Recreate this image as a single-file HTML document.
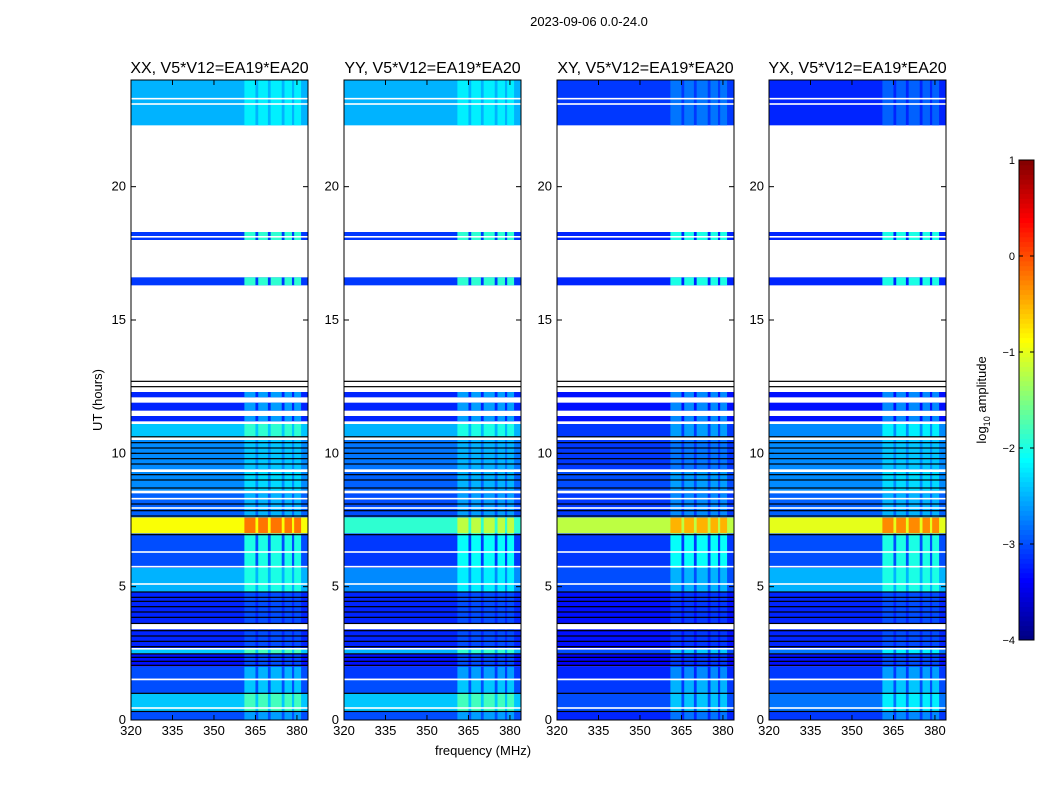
<!DOCTYPE html>
<html><head><meta charset="utf-8"><style>
body{margin:0;background:#fff;font-family:"Liberation Sans","DejaVu Sans",sans-serif}
svg text{font-family:"Liberation Sans","DejaVu Sans",sans-serif}
</style></head><body>
<svg id="fig" width="1050" height="800" xmlns="http://www.w3.org/2000/svg">
<text x="589" y="26" font-size="13" text-anchor="middle">2023-09-06 0.0-24.0</text>
<text x="483" y="755" font-size="13" text-anchor="middle">frequency (MHz)</text>
<text transform="translate(102,400) rotate(-90)" font-size="13" text-anchor="middle">UT (hours)</text>
<g id="plots"></g>
<g id="cbar"></g>
</svg>
<script>
const panelTitles=["XX, V5*V12=EA19*EA20","YY, V5*V12=EA19*EA20","XY, V5*V12=EA19*EA20","YX, V5*V12=EA19*EA20"];
const segStart=[0.0,0.3,1.0,1.55,2.0,2.5,2.7,3.6,4.8,5.7,7.0,7.6,8.6,9.4,10.6,11.2,11.6,12.1,16.3,18.0,22.3];
const segEnd  =[0.3,1.0,1.5,2.0,2.5,2.65,3.4,4.8,5.7,7.0,7.6,8.5,9.3,10.5,11.1,11.4,11.9,12.3,16.6,18.3,24.0];
const lvlXX=[-3.0,-2.4,-3.0,-3.0,-3.3,-2.4,-3.2,-3.2,-2.5,-3.0,-0.9,-2.9,-2.7,-2.7,-2.4,-3.2,-3.2,-3.2,-3.1,-3.1,-2.5];
const lvlYY=[-3.0,-2.4,-3.0,-3.1,-3.3,-2.5,-3.2,-3.2,-2.7,-3.1,-1.9,-3.0,-2.9,-2.8,-2.5,-3.2,-3.2,-3.2,-3.1,-3.1,-2.5];
const lvlXY=[-3.2,-3.0,-3.1,-3.2,-3.4,-3.0,-3.3,-3.3,-3.0,-3.1,-1.2,-3.1,-3.0,-3.1,-3.1,-3.3,-3.3,-3.3,-3.2,-3.2,-3.1];
const lvlYX=[-3.1,-2.8,-3.0,-3.1,-3.3,-2.8,-3.2,-3.2,-2.5,-3.0,-1.0,-2.9,-2.7,-2.7,-2.7,-3.3,-3.3,-3.3,-3.2,-3.2,-3.2];
const rfiBoost=[0.4,0.6,0.6,0.5,0.3,0.6,0.2,0.2,0.5,1.0,0.7,0.4,0.4,0.3,0.5,0.6,0.6,0.6,1.2,1.2,0.3];
const rfiStart=[361,366,370.5,375.5,379];
const rfiEnd  =[365,369.5,374.5,378.2,381.5];
const whiteLines=[0.45,1.52,2.67,3.45,3.55,5.1,5.75,6.3,7.95,8.3,8.55,9.35,10.55,11.15,11.45,11.95,12.35,18.12,23.1,23.3];
const blackLines=[0.32,1.0,2.05,2.2,2.35,2.48,2.75,2.95,3.15,3.35,3.62,3.85,4.05,4.25,4.45,4.6,4.8,6.95,7.65,7.85,8.1,8.7,9.0,9.2,9.6,9.8,10.0,10.2,10.4,10.62,12.5,12.7];
const cbTicks=[1,0,-1,-2,-3,-4];
const xTicks=[320,335,350,365,380];
const yTicks=[0,5,10,15,20];
const levels=[lvlXX,lvlYY,lvlXY,lvlYX];
const panelX=[131,344,557,769], PW=177, PT=80, PB=720;
const NS="http://www.w3.org/2000/svg";
function jet(v){let t=(v+4)/5;t=Math.max(0,Math.min(1,t));
 const f=x=>Math.max(0,Math.min(1,x));
 const r=f(1.5-Math.abs(4*t-3)),g=f(1.5-Math.abs(4*t-2)),b=f(1.5-Math.abs(4*t-1));
 return `rgb(${Math.round(r*255)},${Math.round(g*255)},${Math.round(b*255)})`;}
function mk(tag,attrs,parent){const e=document.createElementNS(NS,tag);for(const k in attrs)e.setAttribute(k,attrs[k]);parent.appendChild(e);return e;}
const yS=h=>PB-(h/24)*(PB-PT);
const plots=document.getElementById('plots');
levels.forEach((lv,p)=>{
 const x0=panelX[p];const xS=f=>x0+(f-320)/(384-320)*PW;
 const g=mk('g',{},plots);
 
 
 segStart.forEach((s,i)=>{
  const y1=yS(segEnd[i]),y2=yS(s);
  const r=mk('rect',{x:x0,y:y1,width:PW,height:y2-y1,fill:jet(lv[i])},g);
  
  
  rfiStart.forEach((fs,j)=>{
   const c=mk('rect',{x:xS(fs),y:y1,width:xS(rfiEnd[j])-xS(fs),height:y2-y1,fill:jet(lv[i]+rfiBoost[i])},g);
   
   
  });
 });
 blackLines.forEach(h=>{const l=mk('rect',{x:x0,y:yS(h)-0.6,width:PW,height:1.2,fill:'#000'},g);
  });
 whiteLines.forEach(h=>{const l=mk('rect',{x:x0,y:yS(h)-0.8,width:PW,height:1.6,fill:'#fff'},g);
  });
 const fr=mk('rect',{x:x0,y:PT,width:PW,height:PB-PT,fill:'none',stroke:'#000','stroke-width':1},g);
 
 const t=mk('text',{x:x0+PW/2,y:PT-7,'font-size':16,'text-anchor':'middle'},g);t.textContent=panelTitles[p];
 
 xTicks.forEach(v=>{const x=xS(v);mk('line',{x1:x,x2:x,y1:PB,y2:PB-5,stroke:'#000'},g);mk('line',{x1:x,x2:x,y1:PT,y2:PT+5,stroke:'#000'},g);
  const tt=mk('text',{x:x,y:PB+15,'font-size':13,'text-anchor':'middle'},g);tt.textContent=v;
  });
 yTicks.forEach(v=>{const y=yS(v);mk('line',{x1:x0,x2:x0+5,y1:y,y2:y,stroke:'#000'},g);mk('line',{x1:x0+PW,x2:x0+PW-5,y1:y,y2:y,stroke:'#000'},g);
  const tt=mk('text',{x:x0-5,y:y+4,'font-size':13,'text-anchor':'end'},g);tt.textContent=v;
  });
});
const cb=document.getElementById('cbar');
const CX=1019,CW=15,CT=160,CB=640;
const cyS=v=>CB-(v+4)/5*(CB-CT);
for(let i=0;i<100;i++){const v=-4+5*i/100;const y1=cyS(v+0.05);
 const r=mk('rect',{x:CX,y:y1,width:CW,height:(CB-CT)/100+0.5,fill:jet(v+0.025)},cb);
 }
const cf=mk('rect',{x:CX,y:CT,width:CW,height:CB-CT,fill:'none',stroke:'#000'},cb);

cbTicks.forEach(v=>{const y=cyS(v);mk('line',{x1:CX,x2:CX+4,y1:y,y2:y,stroke:'#000'},cb);mk('line',{x1:CX+CW,x2:CX+CW-4,y1:y,y2:y,stroke:'#000'},cb);
 const t=mk('text',{x:CX-4,y:y+4,'font-size':11,'text-anchor':'end'},cb);t.textContent=v===0?'0':(v<0?'\u2212'+(-v):v);
 });
const cl=mk('text',{transform:'translate(986,400) rotate(-90)','font-size':13,'text-anchor':'middle'},cb);
cl.innerHTML='log<tspan font-size="9" dy="4">10</tspan><tspan dy="-4"> amplitude</tspan>';

</script>
</body></html>
